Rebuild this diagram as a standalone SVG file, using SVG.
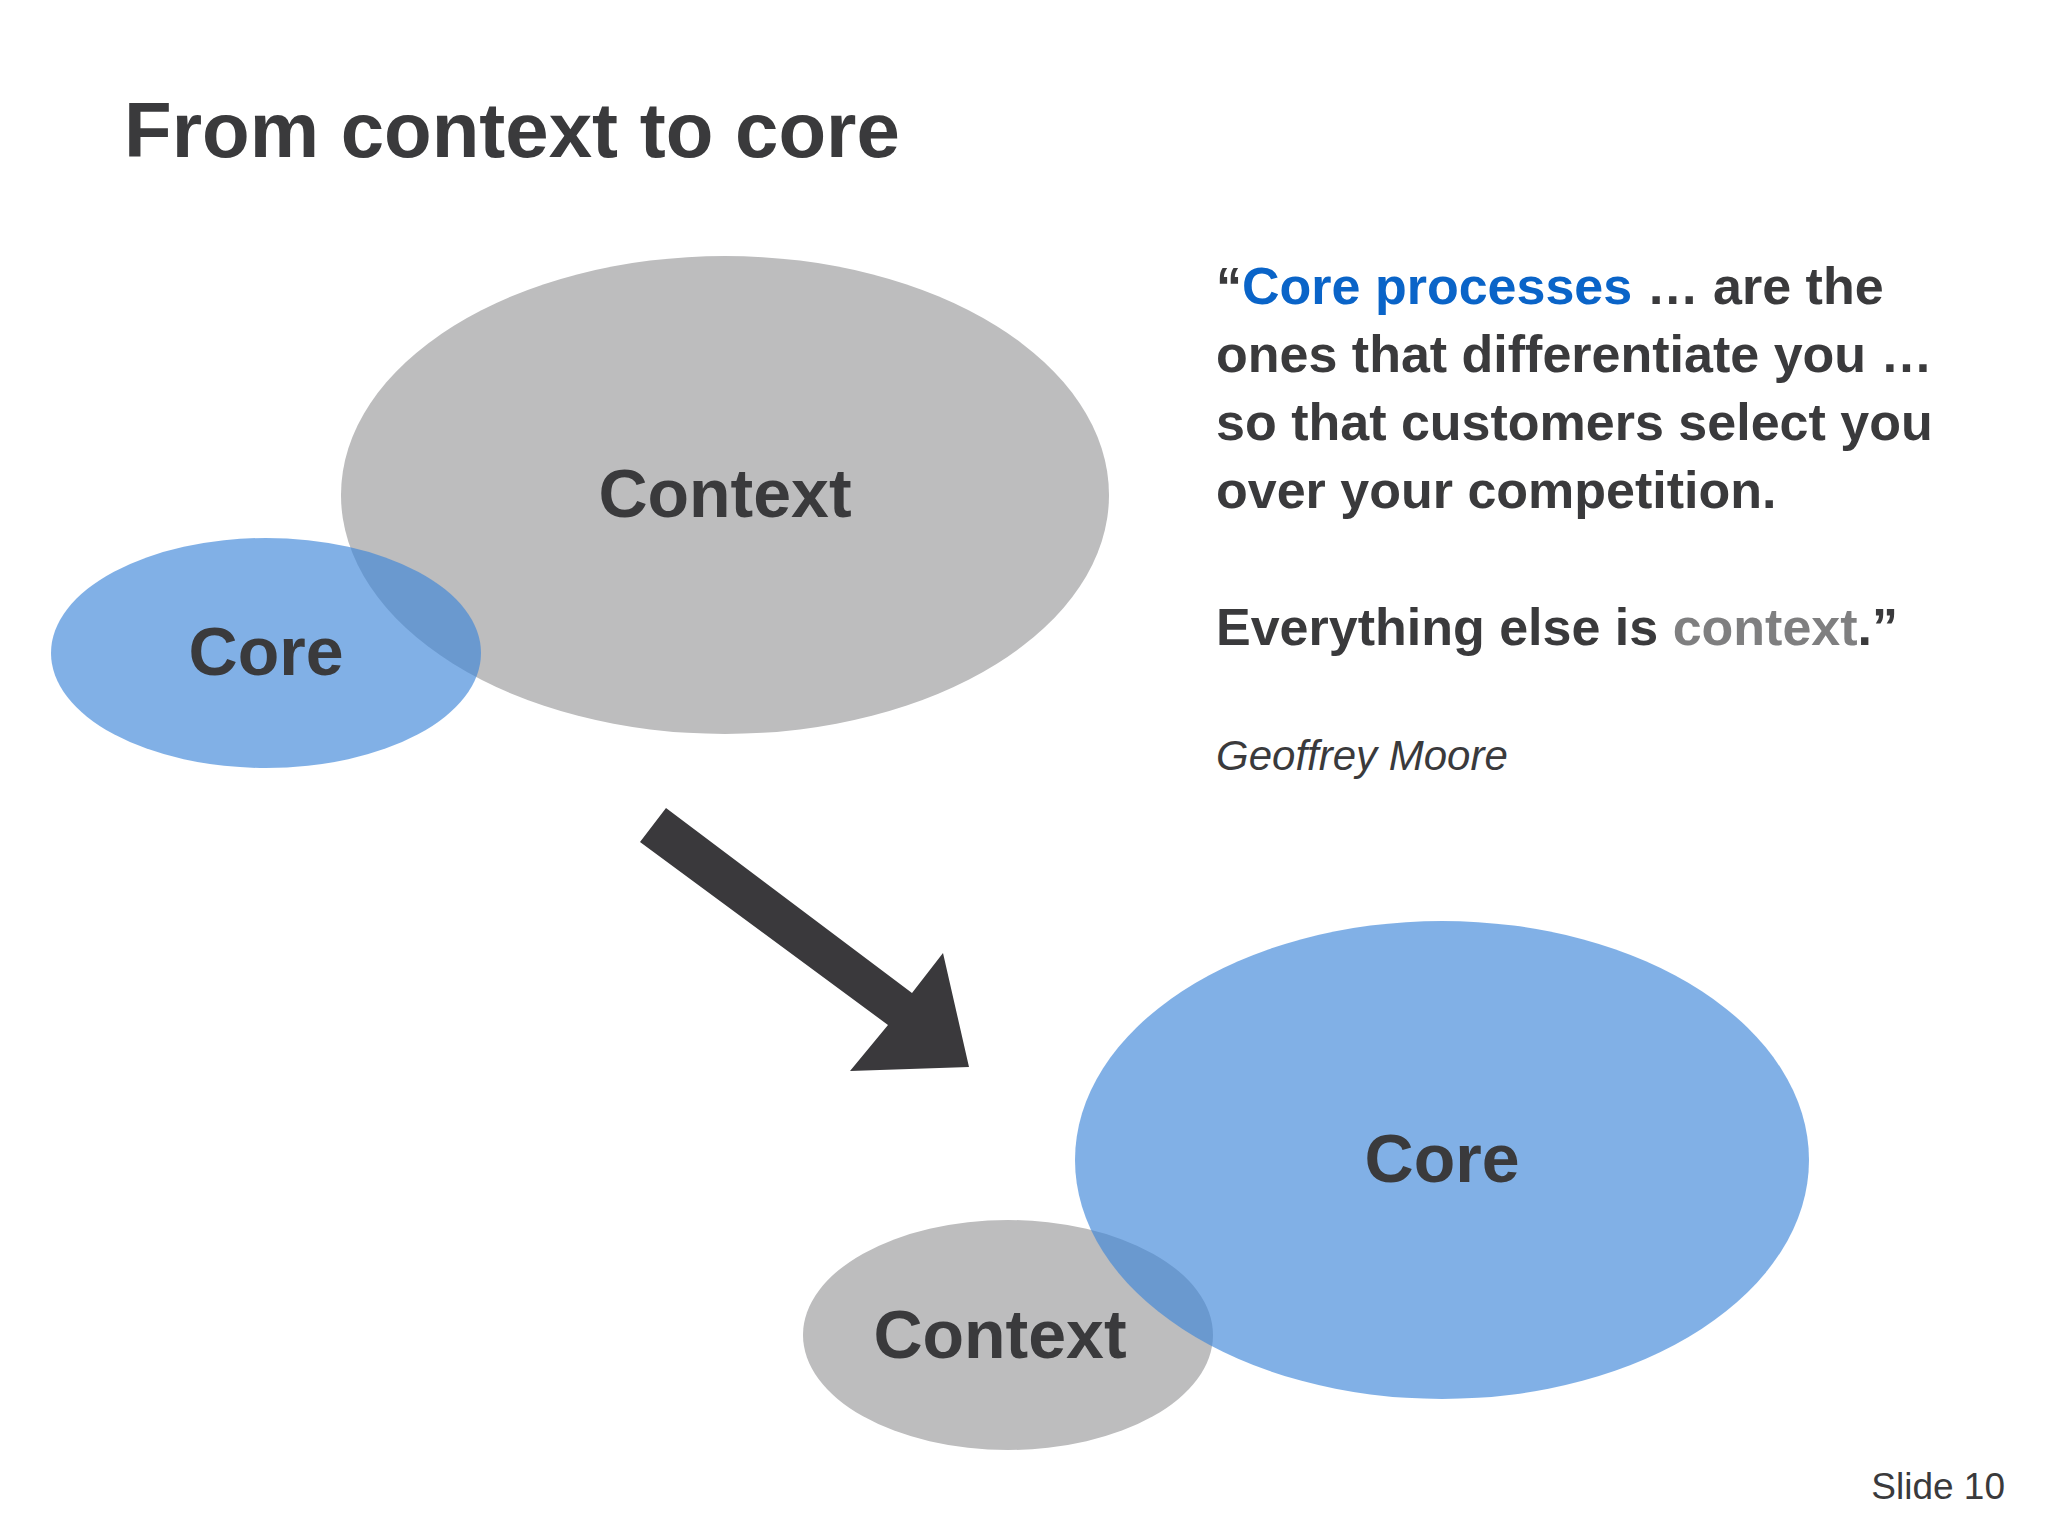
<svg xmlns="http://www.w3.org/2000/svg" width="2048" height="1536" viewBox="0 0 2048 1536">
<style>
text{font-family:"Liberation Sans",Arial,sans-serif;fill:#3a3a3c}
.b{font-weight:bold}
.lbl{font-weight:bold;font-size:68px;text-anchor:middle}
.q{font-weight:bold;font-size:52px}
.blue{fill:#3d85d8;fill-opacity:0.65}
.gray{fill:#bdbdbe}
</style>
<rect width="2048" height="1536" fill="#ffffff"/>
<text class="b" x="124" y="157" font-size="78">From context to core</text>
<g id="context-top"><ellipse class="gray" cx="725" cy="495" rx="384" ry="239"/><text class="lbl" x="725" y="517">Context</text></g>
<g id="core-top"><ellipse class="blue" cx="266" cy="653" rx="215" ry="115"/><text class="lbl" x="266" y="675" font-size="65">Core</text></g>
<g id="connectors"><polygon fill="#3a393c" points="666,808 912,993 943,953 969,1067 850,1071 888,1025 640,842"/></g>
<g id="context-bottom"><ellipse class="gray" cx="1008" cy="1335" rx="205" ry="115"/><text class="lbl" x="1000" y="1358">Context</text></g>
<g id="core-bottom"><ellipse class="blue" cx="1442" cy="1160" rx="367" ry="239"/><text class="lbl" x="1442" y="1182">Core</text></g>
<g id="quote">
<text class="q" x="1216" y="304">“<tspan fill="#0a64c8">Core processes</tspan> … are the</text>
<text class="q" x="1216" y="372">ones that differentiate you …</text>
<text class="q" x="1216" y="440">so that customers select you</text>
<text class="q" x="1216" y="508">over your competition.</text>
<text class="q" x="1216" y="645">Everything else is <tspan fill="#7f7f80">context</tspan>.”</text>
<text x="1216" y="770" font-size="42" font-style="italic">Geoffrey Moore</text>
</g>
<text x="2005" y="1499" font-size="37" text-anchor="end">Slide 10</text>
</svg>
